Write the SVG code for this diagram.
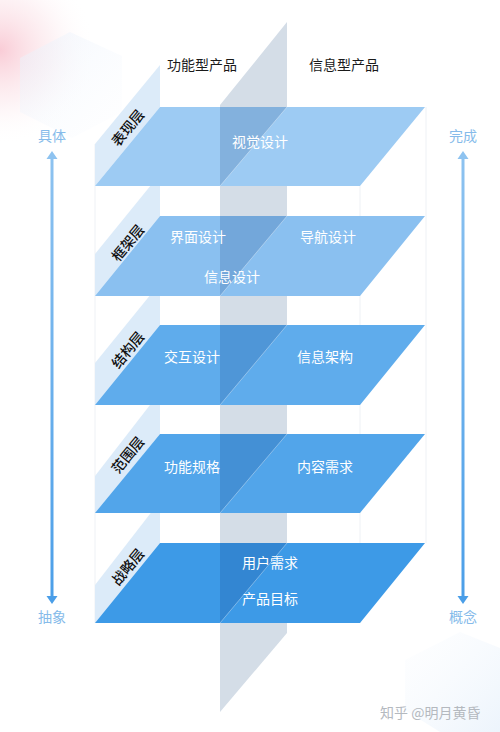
<svg xmlns="http://www.w3.org/2000/svg" width="500" height="732" viewBox="0 0 500 732">
<defs>
<radialGradient id="pink" cx="0" cy="50" r="95" gradientUnits="userSpaceOnUse">
<stop offset="0" stop-color="#F8C3CF" stop-opacity="0.85"/>
<stop offset="0.55" stop-color="#FBE3E8" stop-opacity="0.45"/>
<stop offset="1" stop-color="#FFFFFF" stop-opacity="0"/>
</radialGradient>
<linearGradient id="hexA" x1="0" y1="0" x2="1" y2="1">
<stop offset="0" stop-color="#E9F1FB"/>
<stop offset="1" stop-color="#F7FAFE" stop-opacity="0.2"/>
</linearGradient>
<linearGradient id="hexB" x1="0" y1="0" x2="1" y2="1">
<stop offset="0" stop-color="#F5F9FE" stop-opacity="0.2"/>
<stop offset="1" stop-color="#E0EDFA"/>
</linearGradient>
<linearGradient id="arrowGrad" x1="0" y1="150" x2="0" y2="605" gradientUnits="userSpaceOnUse">
<stop offset="0" stop-color="#8EC3F0"/>
<stop offset="1" stop-color="#4A9EE8"/>
</linearGradient>
</defs>
<style>
.ttl{font-family:"Noto Sans CJK SC","Noto Sans",sans-serif;font-size:14px;fill:#1A1A1A;text-anchor:middle}
.lab{font-family:"Noto Sans CJK SC","Noto Sans",sans-serif;font-size:14px;fill:#111111;text-anchor:middle;font-weight:500}
.in{font-family:"Noto Sans CJK SC","Noto Sans",sans-serif;font-size:14px;fill:#FFFFFF;text-anchor:middle}
.axis{font-family:"Noto Sans CJK SC","Noto Sans",sans-serif;font-size:14px;fill:#86BBEA;text-anchor:middle}
.side{fill:#DCEBF9}
.diag{stroke:#FFFFFF;stroke-opacity:0.35;stroke-width:1;fill:none}
.box{stroke:#EEF1F5;stroke-width:1;fill:none}
.arr{stroke:url(#arrowGrad);stroke-width:3;fill:none}
.headT{fill:#8EC3F0}
.headB{fill:#4A9EE8}
</style>
<rect width="500" height="732" fill="#FFFFFF"/>
<!-- background decoration -->
<rect x="0" y="0" width="200" height="200" fill="url(#pink)"/>
<polygon points="20,58 70,32 122,56 122,112 72,138 20,112" fill="url(#hexA)" opacity="0.55"/>
<polygon points="405,660 460,632 500,648 500,732 440,732 405,710" fill="url(#hexB)" opacity="0.6"/>

<!-- grey vertical plane -->
<polygon id="plane" points="287,22 287,633 220,712 220,105" fill="#D4DDE7"/>

<!-- faint box lines -->
<g id="box">
<line class="box" x1="95" y1="144" x2="95" y2="623"/>
<line class="box" x1="360" y1="186" x2="360" y2="623"/>
<line class="box" x1="426" y1="107" x2="426" y2="543"/>
</g>

<g id="layer5">
<polygon class="side" points="95,585 160,501 160,543 95,623"/>
<polygon points="160,543 425,543 360,623 95,623" fill="#3D9AE7"/>
<polygon points="220,543 287,543 220,623" fill="#3386D2"/>
<line class="diag" x1="287" y1="543" x2="220" y2="623"/>
<text class="lab" transform="translate(128,567) rotate(-50.6)" dy="5">战略层</text>
<text class="in" x="270" y="568">用户需求</text>
<text class="in" x="270" y="604">产品目标</text>
</g>

<g id="layer4">
<polygon class="side" points="95,476 160,392 160,434 95,513"/>
<polygon points="160,434 425,434 360,513 95,513" fill="#52A5EA"/>
<polygon points="220,434 287,434 220,513" fill="#4490D5"/>
<line class="diag" x1="287" y1="434" x2="220" y2="513"/>
<text class="lab" transform="translate(128,455) rotate(-50.6)" dy="5">范围层</text>
<text class="in" x="192" y="472">功能规格</text>
<text class="in" x="325" y="472">内容需求</text>
</g>

<g id="layer3">
<polygon class="side" points="95,363 160,283 160,325 95,405"/>
<polygon points="160,325 425,325 360,405 95,405" fill="#5FACEC"/>
<polygon points="220,325 287,325 220,405" fill="#4F96D7"/>
<line class="diag" x1="287" y1="325" x2="220" y2="405"/>
<text class="lab" transform="translate(128,350) rotate(-50.6)" dy="5">结构层</text>
<text class="in" x="192" y="362">交互设计</text>
<text class="in" x="325" y="362">信息架构</text>
</g>

<g id="layer2">
<polygon class="side" points="95,254 160,174 160,216 95,296"/>
<polygon points="160,216 425,216 360,296 95,296" fill="#8AC0F0"/>
<polygon points="220,216 287,216 220,296" fill="#73A7DA"/>
<line class="diag" x1="287" y1="216" x2="220" y2="296"/>
<text class="lab" transform="translate(128,243) rotate(-50.6)" dy="5">框架层</text>
<text class="in" x="198" y="242">界面设计</text>
<text class="in" x="328" y="242">导航设计</text>
<text class="in" x="232" y="282">信息设计</text>
</g>

<g id="layer1">
<polygon class="side" points="95,144 160,65 160,107 95,186"/>
<polygon points="160,107 425,107 360,186 95,186" fill="#9DCBF3"/>
<polygon points="220,107 287,107 220,186" fill="#83B1DD"/>
<line class="diag" x1="287" y1="107" x2="220" y2="186"/>
<text class="lab" transform="translate(128,128) rotate(-50.6)" dy="5">表现层</text>
<text class="in" x="260" y="147">视觉设计</text>
</g>

<g id="titles">
<text class="ttl" x="202" y="70">功能型产品</text>
<text class="ttl" x="344" y="70">信息型产品</text>
</g>

<g id="connectors">
<g id="arrow-left">
<line class="arr" x1="52" y1="157" x2="52" y2="598"/>
<polygon class="headT" points="52,151 46.5,159 57.5,159"/>
<polygon class="headB" points="52,604 46.5,596 57.5,596"/>
</g>
<g id="arrow-right">
<line class="arr" x1="463" y1="157" x2="463" y2="598"/>
<polygon class="headT" points="463,151 457.5,159 468.5,159"/>
<polygon class="headB" points="463,604 457.5,596 468.5,596"/>
</g>
</g>

<g id="axis-labels">
<text class="axis" x="52" y="141">具体</text>
<text class="axis" x="52" y="622">抽象</text>
<text class="axis" x="463" y="141">完成</text>
<text class="axis" x="463" y="622">概念</text>
</g>

<text x="380" y="718" font-family="'Noto Sans CJK SC','Noto Sans',sans-serif" font-size="14" fill="#B4B9BF">知乎 @明月黄昏</text>
</svg>
